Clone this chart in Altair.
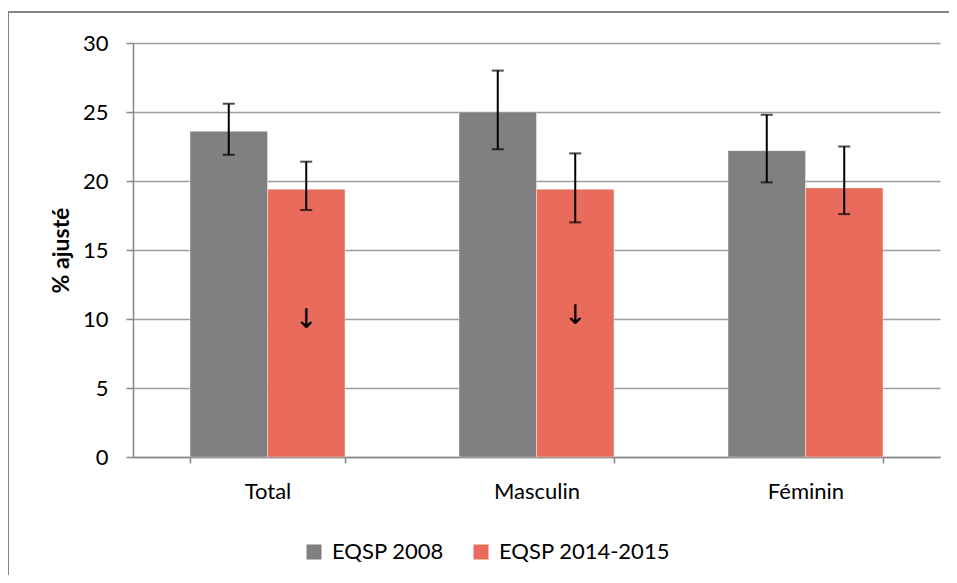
import altair as alt
import pandas as pd

categories = ["Total", "Masculin", "Féminin"]
series = ["EQSP 2008", "EQSP 2014-2015"]
values_2008 = [23.6, 25.0, 22.2]
values_2014 = [19.4, 19.4, 19.5]
low_2008 = [21.9, 22.3, 19.9]
high_2008 = [25.6, 28.0, 24.8]
low_2014 = [17.9, 17.0, 17.6]
high_2014 = [21.4, 22.0, 22.5]
arrows_2014 = ["↓", "↓", ""]
arrow_level = [9.9, 10.2, 0]
colors = ["#808080", "#E96B5B"]
y_ticks = [0, 5, 10, 15, 20, 25, 30]

rows = []
for i, c in enumerate(categories):
    rows.append(dict(cat=c, serie=series[0], val=values_2008[i], lo=low_2008[i], hi=high_2008[i], arrow="", apos=0))
    rows.append(dict(cat=c, serie=series[1], val=values_2014[i], lo=low_2014[i], hi=high_2014[i],
                     arrow=arrows_2014[i], apos=arrow_level[i]))
df = pd.DataFrame(rows)

FONT = "Lato"
FS = 22

x_enc = alt.X("cat:N", sort=categories, title=None,
              scale=alt.Scale(paddingInner=0.424, paddingOuter=0.212),
              axis=alt.Axis(labelAngle=0, labelFontSize=FS, labelFont=FONT, labelColor="#000000",
                            domainColor="#868686", domainWidth=1.5, tickColor="#868686", tickWidth=1.5,
                            tickSize=6, tickBand="extent", labelPadding=18, grid=False))
xo = alt.XOffset("serie:N", sort=series, scale=alt.Scale(paddingInner=0, paddingOuter=0))
y_scale = alt.Scale(domain=[0, 30], nice=False)

bars = alt.Chart(df).mark_bar(stroke="#ffffff", strokeWidth=0.6, strokeOpacity=0.6).encode(
    x=x_enc,
    xOffset=xo,
    y=alt.Y("val:Q", scale=y_scale, title="% ajusté",
            axis=alt.Axis(values=y_ticks, labelFontSize=FS, labelFont=FONT, labelColor="#000000",
                          titleFont=FONT, titleFontSize=23, titleFontWeight="bold", titleColor="#000000",
                          titlePadding=9, labelPadding=18, tickSize=7, tickColor="#868686", tickWidth=1.5,
                          domainColor="#868686", domainWidth=1.5, gridColor="#9d9d9d", gridWidth=1.5)),
    color=alt.Color("serie:N", sort=series, scale=alt.Scale(domain=series, range=colors),
                    legend=alt.Legend(title=None, orient="none", direction="horizontal",
                                      legendX=170, legendY=498, symbolType="square", symbolSize=225,
                                      symbolStrokeWidth=0, labelFontSize=FS, labelFont=FONT,
                                      labelColor="#000000", columnPadding=26, labelOffset=7,
                                      labelLimit=400)),
)

rules = alt.Chart(df).mark_rule(color="#000000", strokeWidth=2).encode(
    x=alt.X("cat:N", sort=categories), xOffset=xo,
    y=alt.Y("lo:Q", scale=y_scale), y2="hi:Q")

caps_lo = alt.Chart(df).mark_tick(color="#000000", thickness=2, size=12, orient="horizontal").encode(
    x=alt.X("cat:N", sort=categories), xOffset=xo, y=alt.Y("lo:Q", scale=y_scale))
caps_hi = alt.Chart(df).mark_tick(color="#000000", thickness=2, size=12, orient="horizontal").encode(
    x=alt.X("cat:N", sort=categories), xOffset=xo, y=alt.Y("hi:Q", scale=y_scale))

arrows = alt.Chart(df).transform_filter("datum.arrow != ''").mark_text(
    fontSize=27, font="DejaVu Sans", color="#000000", baseline="middle").encode(
    x=alt.X("cat:N", sort=categories), xOffset=xo, y=alt.Y("apos:Q", scale=y_scale), text="arrow:N")

border = alt.Chart(df).mark_rect(fill=None, fillOpacity=0, stroke="#868686", strokeWidth=2).encode(
    x=alt.value(-125), x2=alt.value(900), y=alt.value(-31), y2=alt.value(650))

chart = alt.layer(bars, rules, caps_lo, caps_hi, arrows, border).properties(
    width=807, height=414, background="#ffffff",
    autosize=alt.AutoSizeParams(type="none"),
    padding={"left": 125, "top": 35, "right": 9, "bottom": 118},
).configure_view(stroke=None)

chart.save("out.html", embed_options={"renderer": "svg", "actions": False})
